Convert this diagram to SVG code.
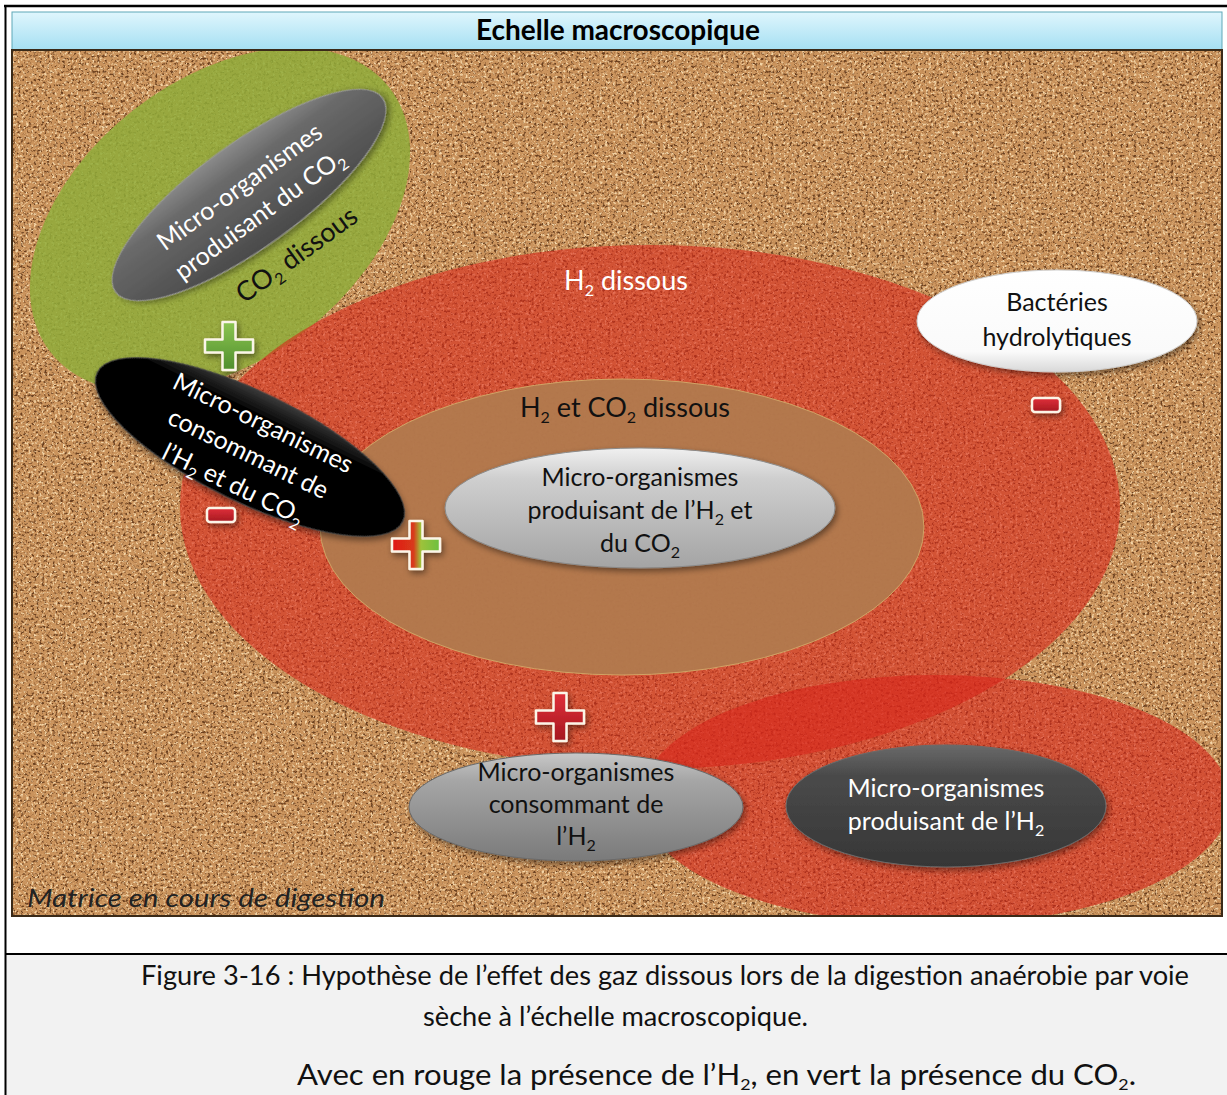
<svg xmlns="http://www.w3.org/2000/svg" width="1227" height="1095" viewBox="0 0 1227 1095">
<style>
.t{font-family:Lato,"Liberation Sans",sans-serif;font-size:25px;text-anchor:middle}
.w{fill:#ffffff}
.k{fill:#111111}
.sub{font-size:16px}
</style>
<defs>
<filter id="sand" x="0" y="0" width="100%" height="100%" color-interpolation-filters="sRGB">
<feTurbulence type="fractalNoise" baseFrequency="0.38" numOctaves="4" seed="11" result="t"/>
<feColorMatrix in="t" type="matrix" values="0 0 0 0 0.42  0 0 0 0 0.25  0 0 0 0 0.12  4.5 0 0 0 -2.35" result="dk"/>
<feColorMatrix in="t" type="matrix" values="0 0 0 0 0.96  0 0 0 0 0.84  0 0 0 0 0.66  0 -4.5 0 0 2.05" result="lt"/>
<feMerge><feMergeNode in="SourceGraphic"/><feMergeNode in="dk"/><feMergeNode in="lt"/></feMerge>
</filter>
<filter id="sh" x="-20%" y="-20%" width="140%" height="150%">
<feGaussianBlur in="SourceAlpha" stdDeviation="3"/>
<feOffset dx="2" dy="3" result="b"/>
<feComponentTransfer><feFuncA type="linear" slope="0.45"/></feComponentTransfer>
<feMerge><feMergeNode/><feMergeNode in="SourceGraphic"/></feMerge>
</filter>
<linearGradient id="hdr" x1="0" y1="0" x2="0" y2="1">
<stop offset="0" stop-color="#dff6fd"/><stop offset="1" stop-color="#a5dff2"/>
</linearGradient>
<linearGradient id="gDark" x1="0" y1="0" x2="0" y2="1">
<stop offset="0" stop-color="#8a8a8a"/><stop offset="0.25" stop-color="#6a6a6a"/><stop offset="1" stop-color="#4a4a4a"/>
</linearGradient>
<linearGradient id="gBlack" x1="0" y1="0" x2="0" y2="1">
<stop offset="0" stop-color="#3a3a3a"/><stop offset="0.2" stop-color="#050505"/><stop offset="1" stop-color="#000000"/>
</linearGradient>
<linearGradient id="gLight" x1="0" y1="0" x2="0" y2="1">
<stop offset="0" stop-color="#f0f0f0"/><stop offset="0.25" stop-color="#cfcfcf"/><stop offset="1" stop-color="#a4a4a4"/>
</linearGradient>
<linearGradient id="gWhite" x1="0" y1="0" x2="0" y2="1">
<stop offset="0" stop-color="#ffffff"/><stop offset="0.8" stop-color="#fafafa"/><stop offset="1" stop-color="#d8d8d8"/>
</linearGradient>
<linearGradient id="gMid" x1="0" y1="0" x2="0" y2="1">
<stop offset="0" stop-color="#c8c8c8"/><stop offset="0.25" stop-color="#a6a6a6"/><stop offset="1" stop-color="#7a7a7a"/>
</linearGradient>
<linearGradient id="gDark2" x1="0" y1="0" x2="0" y2="1">
<stop offset="0" stop-color="#6a6a6a"/><stop offset="0.25" stop-color="#4a4a4a"/><stop offset="1" stop-color="#363636"/>
</linearGradient>
<linearGradient id="pGreen" x1="0" y1="0" x2="0" y2="1">
<stop offset="0" stop-color="#8cc552"/><stop offset="1" stop-color="#4f8e2c"/>
</linearGradient>
<linearGradient id="pRed" x1="0" y1="0" x2="0" y2="1">
<stop offset="0" stop-color="#e0303a"/><stop offset="1" stop-color="#a51820"/>
</linearGradient>
<linearGradient id="pRG" x1="0" y1="0" x2="1" y2="0">
<stop offset="0" stop-color="#e01818"/><stop offset="0.45" stop-color="#d83a1a"/><stop offset="0.6" stop-color="#9ec23a"/><stop offset="1" stop-color="#6cc040"/>
</linearGradient>
<path id="plus" d="M -6.5 -24 H 6.5 V -6.5 H 24 V 6.5 H 6.5 V 24 H -6.5 V 6.5 H -24 V -6.5 H -6.5 Z"/>
<clipPath id="panel"><rect x="12" y="50" width="1210" height="866"/></clipPath>
</defs>

<!-- frame -->
<rect x="0" y="0" width="1227" height="1095" fill="#ffffff"/>
<rect x="6" y="955" width="1221" height="140" fill="#f2f2f2"/>
<line x1="4" y1="6" x2="1227" y2="6" stroke="#000" stroke-width="2.5"/>
<line x1="5.5" y1="5" x2="5.5" y2="1095" stroke="#000" stroke-width="2"/>
<line x1="5" y1="954" x2="1227" y2="954" stroke="#000" stroke-width="2"/>

<!-- header -->
<g id="header">
<rect x="12" y="12" width="1210" height="38" fill="url(#hdr)" stroke="#5fa8b8" stroke-width="1"/>
<text x="618" y="40" style="font-family:Lato,'Liberation Sans',sans-serif;font-size:28px;font-weight:bold;text-anchor:middle" fill="#000">Echelle macroscopique</text>
</g>

<!-- panel background & zones -->
<g id="zones" clip-path="url(#panel)">
<rect x="12" y="50" width="1210" height="866" fill="#ca935c" filter="url(#sand)"/>
<ellipse cx="220" cy="220" rx="215" ry="140" transform="rotate(-38 220 220)" fill="#8fac3a" opacity="0.85"/>
<ellipse cx="650" cy="507" rx="470" ry="262" fill="#d8281a" opacity="0.6"/>
<ellipse cx="622" cy="527" rx="302" ry="148" fill="#b27a4e" opacity="0.95" stroke="#d0a868" stroke-width="1"/>
<ellipse cx="935" cy="800" rx="295" ry="125" fill="#d8241a" opacity="0.6"/>
</g>
<rect x="12" y="50" width="1210" height="866" fill="none" stroke="#3a2a18" stroke-width="2"/>

<g id="labels">
<text class="t k" style="font-size:27px" transform="translate(302 262) rotate(-36)">CO<tspan class="sub" dy="6">2</tspan><tspan dy="-6"> dissous</tspan></text>
<text class="t w" style="font-size:27px" x="626" y="290">H<tspan class="sub" dy="6">2</tspan><tspan dy="-6"> dissous</tspan></text>
<text class="t k" style="font-size:27px" x="625" y="417">H<tspan class="sub" dy="6">2</tspan><tspan dy="-6"> et CO</tspan><tspan class="sub" dy="6">2</tspan><tspan dy="-6"> dissous</tspan></text>
<text x="27" y="907" textLength="358" lengthAdjust="spacingAndGlyphs" style="font-family:Lato,'Liberation Sans',sans-serif;font-size:26px;font-style:italic" fill="#222">Matrice en cours de digestion</text>
</g>

<g id="connectors"></g>

<g id="node-co2-producers">
<ellipse cx="249" cy="195" rx="165" ry="52" transform="rotate(-36 249 195)" fill="url(#gDark)" stroke="#9a9a9a" stroke-width="1" filter="url(#sh)"/>
<g transform="translate(250 201) rotate(-36)">
<text class="t w" x="0" y="-9">Micro-organismes</text>
<text class="t w" x="0" y="25">produisant du CO<tspan class="sub" dy="6">2</tspan></text>
</g>
</g>

<g id="node-h2co2-consumers">
<ellipse cx="250" cy="447" rx="170" ry="55" transform="rotate(26 250 447)" fill="url(#gBlack)" stroke="#444" stroke-width="1" filter="url(#sh)"/>
<g transform="translate(248 454) rotate(26)">
<text class="t w" x="0" y="-26">Micro-organismes</text>
<text class="t w" x="0" y="8">consommant de</text>
<text class="t w" x="0" y="42">l’H<tspan class="sub" dy="6">2</tspan><tspan dy="-6"> et du CO</tspan><tspan class="sub" dy="6">2</tspan></text>
</g>
</g>

<g id="node-h2co2-producers">
<ellipse cx="640" cy="508" rx="195" ry="60" fill="url(#gLight)" stroke="#8a8a8a" stroke-width="1" filter="url(#sh)"/>
<text class="t k" x="640" y="486">Micro-organismes</text>
<text class="t k" x="640" y="519">produisant de l’H<tspan class="sub" dy="6">2</tspan><tspan dy="-6"> et</tspan></text>
<text class="t k" x="640" y="552">du CO<tspan class="sub" dy="6">2</tspan></text>
</g>

<g id="node-hydrolytic">
<ellipse cx="1057" cy="321" rx="140" ry="51" fill="url(#gWhite)" stroke="#cfcfcf" stroke-width="1" filter="url(#sh)"/>
<text class="t k" x="1057" y="311">Bactéries</text>
<text class="t k" x="1057" y="346">hydrolytiques</text>
</g>

<g id="node-h2-consumers">
<ellipse cx="576" cy="807" rx="167" ry="54" fill="url(#gMid)" stroke="#6a6a6a" stroke-width="1" filter="url(#sh)"/>
<text class="t k" x="576" y="781">Micro-organismes</text>
<text class="t k" x="576" y="813">consommant de</text>
<text class="t k" x="576" y="845">l’H<tspan class="sub" dy="6">2</tspan></text>
</g>

<g id="node-h2-producers">
<ellipse cx="946" cy="806" rx="160" ry="61" fill="url(#gDark2)" stroke="#6a6a6a" stroke-width="1" filter="url(#sh)"/>
<text class="t w" x="946" y="797">Micro-organismes</text>
<text class="t w" x="946" y="830">produisant de l’H<tspan class="sub" dy="6">2</tspan></text>
</g>

<g id="signs" stroke="#fbf5e8" stroke-width="2.5" stroke-linejoin="round" filter="url(#sh)">
<use href="#plus" transform="translate(229 346)" fill="url(#pGreen)"/>
<use href="#plus" transform="translate(416 545)" fill="url(#pRG)"/>
<use href="#plus" transform="translate(560 717)" fill="url(#pRed)"/>
<rect x="1032" y="398" width="28" height="14" rx="3" fill="url(#pRed)"/>
<rect x="207" y="508" width="28" height="14" rx="3" fill="url(#pRed)"/>
</g>

<g id="caption" style="font-family:Lato,'Liberation Sans',sans-serif;font-size:27px" fill="#111">
<text x="141" y="985" textLength="1048" lengthAdjust="spacingAndGlyphs">Figure 3-16 : Hypothèse de l’effet des gaz dissous lors de la digestion anaérobie par voie</text>
<text x="423" y="1026" textLength="385" lengthAdjust="spacingAndGlyphs">sèche à l’échelle macroscopique.</text>
<text x="297" y="1085" style="font-size:28px" textLength="839" lengthAdjust="spacingAndGlyphs">Avec en rouge la présence de l’H<tspan class="sub" dy="5">2</tspan><tspan dy="-5">, en vert la présence du CO</tspan><tspan class="sub" dy="5">2</tspan><tspan dy="-5">.</tspan></text>
</g>
</svg>
